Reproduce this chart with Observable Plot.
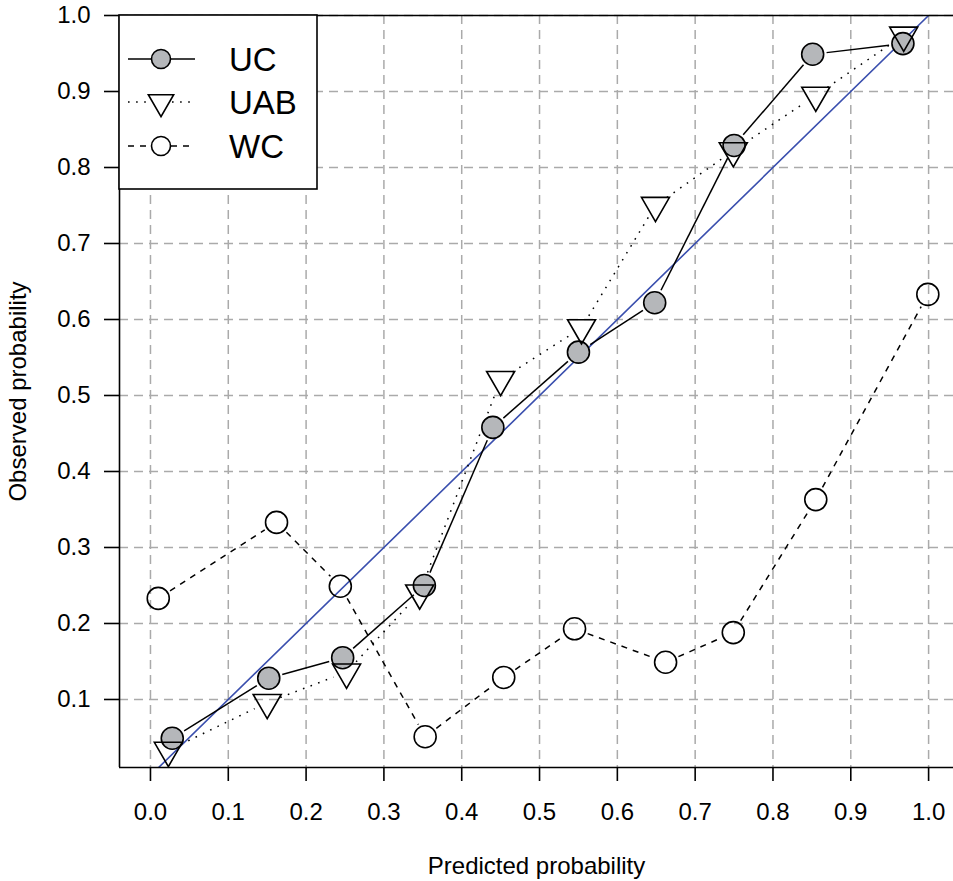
<!DOCTYPE html>
<html>
<head>
<meta charset="utf-8">
<script src="https://cdn.jsdelivr.net/npm/d3@7"></script>
<script src="https://cdn.jsdelivr.net/npm/@observablehq/plot@0.6"></script>
<style>
  body { margin: 0; background: #fff; }
  #wrap { position: relative; width: 953px; height: 881px; }
  #legend { position: absolute; left: 0; top: 0; pointer-events: none; }
</style>
</head>
<body>
<div id="wrap"></div>
<script>
// ---- Data ----
const seriesNames = ["UC", "UAB", "WC"];
const ucX  = [0.028, 0.152, 0.247, 0.352, 0.440, 0.550, 0.648, 0.750, 0.851, 0.967];
const ucY  = [0.049, 0.128, 0.155, 0.250, 0.458, 0.557, 0.622, 0.829, 0.949, 0.963];
const uabX = [0.023, 0.150, 0.252, 0.346, 0.450, 0.554, 0.649, 0.749, 0.855, 0.968];
const uabY = [0.033, 0.096, 0.136, 0.240, 0.521, 0.589, 0.750, 0.822, 0.895, 0.974];
const wcX  = [0.010, 0.162, 0.244, 0.353, 0.454, 0.545, 0.662, 0.749, 0.855, 0.999];
const wcY  = [0.233, 0.333, 0.249, 0.051, 0.129, 0.193, 0.149, 0.188, 0.363, 0.633];
const xTicks = [0, 0.1, 0.2, 0.3, 0.4, 0.5, 0.6, 0.7, 0.8, 0.9, 1.0];
const yTicks = [0.1, 0.2, 0.3, 0.4, 0.5, 0.6, 0.7, 0.8, 0.9, 1.0];
const diag = [0, 1];
const xLabel = "Predicted probability";
const yLabel = "Observed probability";

const xDomain = [-0.0398, 1.032];
const yDomain = [0.0105, 1.0];

const pts = (xs, ys) => xs.map((x, i) => ({x, y: ys[i]}));
const segs = (xs, ys) => xs.slice(1).map((x, i) => ({x1: xs[i], y1: ys[i], x2: x, y2: ys[i + 1]}));

const uc = pts(ucX, ucY), uab = pts(uabX, uabY), wc = pts(wcX, wcY);
const blue = "#3a4fae";
const grayFill = "#b5b7ba";
const gridStyle = {stroke: "#aaaaaa", strokeOpacity: 1, strokeWidth: 1.5, strokeDasharray: "9,6"};
const segStyle = {x1: "x1", y1: "y1", x2: "x2", y2: "y2", inset: 14, headLength: 0, bend: 0,
  stroke: "black", strokeWidth: 1.5, strokeOpacity: 1, strokeLinecap: "butt"};

const chart = Plot.plot({
  width: 953,
  height: 881,
  marginLeft: 119,
  marginRight: 0,
  marginTop: 15,
  marginBottom: 114,
  x: {domain: xDomain},
  y: {domain: yDomain},
  style: {fontFamily: "'Liberation Sans', Arial, Helvetica, sans-serif", fontSize: "24px", color: "black", background: "white"},
  marks: [
    Plot.gridX(xTicks, gridStyle),
    Plot.gridY(yTicks, gridStyle),
    Plot.line(diag, {x: d => d, y: d => d, stroke: blue, strokeWidth: 1.6, clip: true}),
    Plot.arrow(segs(wcX, wcY), {...segStyle, strokeDasharray: "6,6"}),
    Plot.arrow(segs(ucX, ucY), {...segStyle}),
    Plot.arrow(segs(uabX, uabY), {...segStyle, strokeDasharray: "1.6,6.5"}),
    Plot.dot(wc, {x: "x", y: "y", r: 11, fill: "none", stroke: "black", strokeWidth: 1.6}),
    Plot.dot(uc, {x: "x", y: "y", r: 11, fill: grayFill, stroke: "black", strokeWidth: 1.6}),
    Plot.dot(uab, {x: "x", y: "y", r: 10.4, symbol: "triangle", rotate: 180, fill: "none", stroke: "black", strokeWidth: 1.6}),
    Plot.ruleX([xDomain[0]], {stroke: "black", strokeWidth: 1.6}),
    Plot.ruleY([yDomain[0], yDomain[1]], {stroke: "black", strokeWidth: 1.6}),
    Plot.axisX(xTicks, {tickSize: 14, tickPadding: 21, tickFormat: d3.format(".1f"), strokeWidth: 1.6, fontSize: 24, label: null}),
    Plot.axisY(yTicks, {tickSize: 15, tickPadding: 14, tickFormat: d3.format(".1f"), strokeWidth: 1.6, fontSize: 24, label: null}),
    Plot.text([xLabel], {text: d => d, frameAnchor: "bottom", dy: 106, fontSize: 24}),
    Plot.text([yLabel], {text: d => d, frameAnchor: "left", textAnchor: "middle", dx: -101, rotate: -90, fontSize: 24})
  ]
});

const wrap = document.getElementById("wrap");
wrap.appendChild(chart);

// ---- Legend overlay (top-left inside plot) ----
const lg = d3.select(wrap).append("svg")
  .attr("id", "legend")
  .attr("width", 953).attr("height", 881)
  .style("font-family", "'Liberation Sans', Arial, Helvetica, sans-serif");

lg.append("rect")
  .attr("x", 119).attr("y", 15).attr("width", 198).attr("height", 174)
  .attr("fill", "white").attr("stroke", "black").attr("stroke-width", 1.6);

const rowY = [59, 102, 146];
const dashes = [null, "1.6,6.5", "6,6"];
const symX = 161, lineL = 128, lineR = 195;
seriesNames.forEach((name, i) => {
  const y = rowY[i];
  const gap = i === 0 ? 0 : (i === 1 ? 11 : 10);
  [[lineL, symX - gap], [symX + gap, lineR]].forEach(([a, b]) => {
    lg.append("line").attr("x1", a).attr("x2", b).attr("y1", y).attr("y2", y)
      .attr("stroke", "black").attr("stroke-width", 1.6)
      .attr("stroke-dasharray", dashes[i]);
  });
  if (i === 1) {
    const sym = d3.symbol(d3.symbolTriangle, Math.PI * 9.4 * 9.4)();
    lg.append("path").attr("d", sym)
      .attr("transform", `translate(${symX},${y}) rotate(180)`)
      .attr("fill", "none").attr("stroke", "black").attr("stroke-width", 1.6);
  } else {
    lg.append("circle").attr("cx", symX).attr("cy", y).attr("r", 9.5)
      .attr("fill", i === 0 ? grayFill : "white").attr("stroke", "black").attr("stroke-width", 1.6);
  }
  lg.append("text").attr("x", 229).attr("y", y + 12).attr("font-size", 33).text(name);
});
</script>
</body>
</html>
